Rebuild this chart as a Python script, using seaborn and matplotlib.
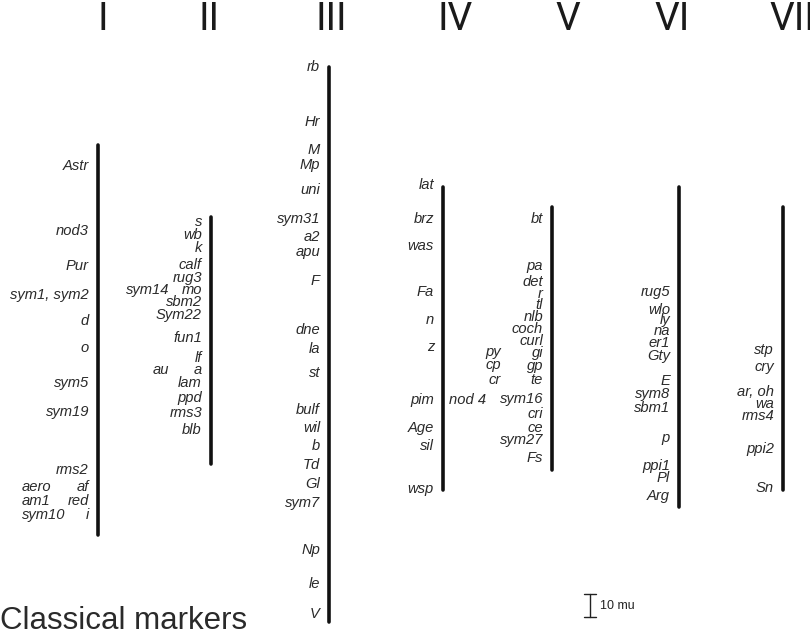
import matplotlib
matplotlib.use("Agg")
import matplotlib.pyplot as plt
import pandas as pd
import seaborn as sns

# linkage groups, top/bottom of each bar (map position, drawn top-down)
CHROMS = ["I", "II", "III", "IV", "V", "VI", "VII"]
BAR_TOP = [145, 217, 67, 187, 207, 187, 207]
BAR_BOTTOM = [535, 464, 622, 490, 470, 507, 490]

# markers per group: name, map position, column (0 = beside bar, 1 = second column)
chr1_names = ["Astr", "nod3", "Pur", "sym1, sym2", "d", "o", "sym5", "sym19", "rms2",
              "af", "red", "i", "aero", "am1", "sym10"]
chr1_pos = [166, 231, 266, 295, 321, 348, 383, 412, 470, 487, 501, 515, 487, 501, 515]
chr1_col = [0, 0, 0, 0, 0, 0, 0, 0, 0, 0, 0, 0, 1, 1, 1]

chr2_names = ["s", "wb", "k", "calf", "rug3", "mo", "sbm2", "Sym22", "fun1", "lf", "a",
              "lam", "ppd", "rms3", "blb", "sym14", "au"]
chr2_pos = [222, 235, 248, 265, 278, 290, 302, 315, 338, 358, 370, 383, 398, 413, 430, 290, 370]
chr2_col = [0] * 15 + [1, 1]

chr3_names = ["rb", "Hr", "M", "Mp", "uni", "sym31", "a2", "apu", "F", "dne", "la", "st",
              "bulf", "wil", "b", "Td", "Gl", "sym7", "Np", "le", "V"]
chr3_pos = [67, 122, 150, 165, 190, 219, 237, 252, 281, 330, 349, 373,
            410, 428, 446, 465, 484, 503, 550, 584, 614]
chr3_col = [0] * 21

chr4_names = ["lat", "brz", "was", "Fa", "n", "z", "pim", "Age", "sil", "wsp", "nod 4"]
chr4_pos = [185, 219, 246, 292, 320, 347, 400, 428, 446, 489, 400]
chr4_col = [0] * 10 + [1]

chr5_names = ["bt", "pa", "det", "r", "tl", "nlb", "coch", "curl", "gi", "gp", "te",
              "sym16", "cri", "ce", "sym27", "Fs", "py", "cp", "cr"]
chr5_pos = [219, 266, 282, 294, 305, 317, 329, 341, 353, 366, 380,
            399, 414, 428, 440, 458, 352, 365, 380]
chr5_col = [0] * 16 + [1, 1, 1]

chr6_names = ["rug5", "wlo", "ly", "na", "er1", "Gty", "E", "sym8", "sbm1", "p",
              "ppi1", "Pl", "Arg"]
chr6_pos = [292, 310, 320, 331, 343, 356, 381, 394, 408, 438, 466, 478, 496]
chr6_col = [0] * 13

chr7_names = ["stp", "cry", "ar, oh", "wa", "rms4", "ppi2", "Sn"]
chr7_pos = [350, 367, 392, 404, 416, 449, 488]
chr7_col = [0] * 7

# layout (pixels)
BAR_X = [98, 211, 329, 443, 552, 679, 783]
TITLE_X = [103, 209, 331, 455, 568, 672, 792]
SECOND_COL = {"I": (22, "left"), "II": (169, "right"), "IV": (449, "left"), "V": (501, "right")}

groups = [
    (chr1_names, chr1_pos, chr1_col),
    (chr2_names, chr2_pos, chr2_col),
    (chr3_names, chr3_pos, chr3_col),
    (chr4_names, chr4_pos, chr4_col),
    (chr5_names, chr5_pos, chr5_col),
    (chr6_names, chr6_pos, chr6_col),
    (chr7_names, chr7_pos, chr7_col),
]

sns.set_theme(style="white")
plt.rcParams["font.family"] = ["Liberation Sans", "DejaVu Sans"]

fig = plt.figure(figsize=(8.1, 6.42), dpi=100)
ax = fig.add_axes([0, 0, 1, 1])

bars = pd.DataFrame({
    "chrom": CHROMS * 2,
    "x": BAR_X * 2,
    "pos": BAR_TOP + BAR_BOTTOM,
})
sns.lineplot(data=bars, x="x", y="pos", units="chrom", estimator=None, sort=False,
             color="#111111", lw=2.6, ax=ax, legend=False)

for chrom, bx, tx, (names, pos, col) in zip(CHROMS, BAR_X, TITLE_X, groups):
    ax.text(tx, 20, chrom, ha="center", va="center", fontsize=28, color="#1a1a1a",
            family=["Roboto", "Liberation Sans"])
    for name, y, c in zip(names, pos, col):
        if c == 0:
            x, ha = bx - 9, "right"
        else:
            x, ha = SECOND_COL[chrom]
        ax.text(x, y, name, ha=ha, va="center", fontsize=10.6, style="italic",
                color="#2a2a2a")

# scale bar: 10 mu
ax.plot([590, 590], [594, 617], color="#222222", lw=1)
ax.plot([584, 596], [594, 594], color="#222222", lw=1)
ax.plot([584, 596], [617, 617], color="#222222", lw=1)
ax.text(600, 606, "10 mu", ha="left", va="center", fontsize=9, color="#222222")

ax.text(0, 621, "Classical markers", ha="left", va="center", fontsize=22.5, color="#2a2a2a")

ax.set_xlim(0, 810)
ax.set_ylim(642, 0)
ax.axis("off")
fig.savefig("out.png", dpi=100)
